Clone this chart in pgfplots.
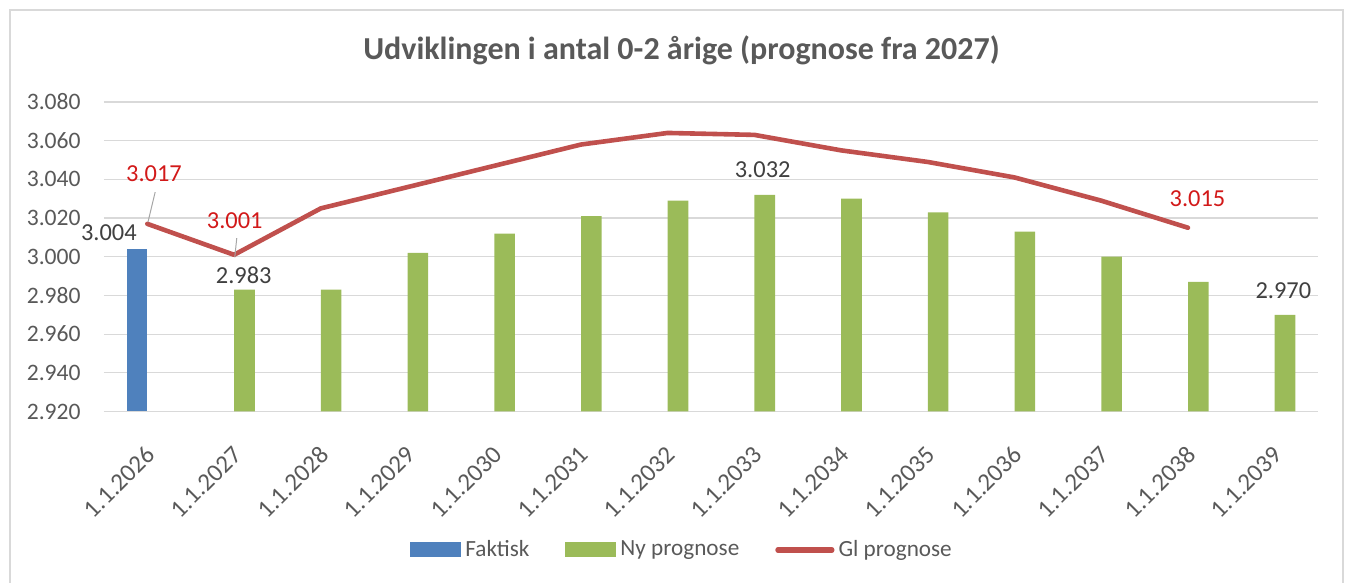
\documentclass[border=0pt]{standalone}
\usepackage{fontspec}
\setmainfont{Carlito}
\usepackage{pgfplots}
\pgfplotsset{compat=1.18}

\definecolor{fakt}{HTML}{4F81BD}
\definecolor{nyp}{HTML}{9BBB59}
\definecolor{glp}{HTML}{C0504D}
\definecolor{txt}{HTML}{595959}
\definecolor{lbl}{HTML}{404040}
\definecolor{lblred}{RGB}{210,25,25}
\definecolor{gridc}{HTML}{D9D9D9}

\begin{document}
\begin{tikzpicture}
% page: 1351x583 px at 0.5pt/px, axis area SW corner at the origin
\useasboundingbox (-52pt,-85.75pt) rectangle (623.5pt,205.75pt);
\draw[gridc, line width=0.6pt] (-47pt,-90pt) rectangle (619.5pt,200.75pt);
\node[font=\fontsize{16}{19}\selectfont\bfseries, text=txt] at (288.75pt,180.75pt)
  {Udviklingen i antal 0-2 årige (prognose fra 2027)};
\begin{axis}[
    scale only axis,
    width=607pt, height=154.75pt,
    xmin=-0.5, xmax=13.5,
    ymin=2920, ymax=3080,
    ytick distance=20,
    xtick={0,...,13},
    xticklabels={1.1.2026,1.1.2027,1.1.2028,1.1.2029,1.1.2030,1.1.2031,1.1.2032,
                 1.1.2033,1.1.2034,1.1.2035,1.1.2036,1.1.2037,1.1.2038,1.1.2039},
    axis line style={draw=none},
    major tick length=0pt,
    ymajorgrids, grid style={gridc, line width=0.6pt},
    clip mode=individual,
    scaled y ticks=false,
    /pgf/number format/assume math mode=true,
    ticklabel style={text=txt},
    yticklabel style={font=\fontsize{11.8}{13}\selectfont,
        /pgf/number format/fixed, /pgf/number format/precision=0,
        /pgf/number format/1000 sep={.}, inner sep=0pt, xshift=-11.5pt},
    xticklabel style={font=\fontsize{12.5}{14}\selectfont,
        xshift=1.8pt, yshift=-19.5pt, rotate=45, anchor=east, inner sep=0pt},
    legend columns=3,
    legend cell align=left,
    legend style={at={(0.477,-0.4475)}, anchor=center, draw=none, fill=none,
        font=\fontsize{11.6}{13}\selectfont, text=txt,
        /tikz/every even column/.append style={column sep=16pt},
        nodes={inner xsep=2pt, inner ysep=0pt}},
]
\addplot[ybar, bar width=10.3pt, bar shift=-5.2pt, fill=fakt, draw=none,
    legend image code/.code={\fill[fakt] (0pt,-3.75pt) rectangle (25.5pt,3.75pt);}]
    coordinates {(0,3004)};
\addlegendentry{Faktisk}
\addplot[ybar, bar width=10.3pt, bar shift=5.2pt, fill=nyp, draw=none,
    legend image code/.code={\fill[nyp] (0pt,-3.75pt) rectangle (25.5pt,3.75pt);}]
    coordinates {
    (1,2983) (2,2983) (3,3002) (4,3012) (5,3021) (6,3029) (7,3032)
    (8,3030) (9,3023) (10,3013) (11,3000) (12,2987) (13,2970)
};
\addlegendentry{Ny prognose}
\addplot[glp, line width=2.3pt, line join=round, line cap=round, mark=none,
    legend image code/.code={\draw[glp, line width=2.6pt, line cap=round] (0pt,0pt) -- (27pt,0pt);}]
    coordinates {
    (0,3017) (1,3001) (2,3025) (3,3036) (4,3047) (5,3058) (6,3064)
    (7,3063) (8,3055) (9,3049) (10,3041) (11,3029) (12,3015)
};
\addlegendentry{Gl prognose}
% data labels
\draw[gray!70, line width=0.5pt] (axis cs:0.09,3033.4) -- (axis cs:0.007,3017.9);
\draw[gray!70, line width=0.5pt] (axis cs:1.031,3009.6) -- (axis cs:1.008,2999.7);
\begin{scope}[every node/.style={font=\fontsize{12.2}{14}\selectfont, inner sep=0pt}]
\node[text=lbl] at (axis cs:-0.444,3012.7) {3.004};
\node[text=lblred] at (axis cs:0.076,3043.2) {3.017};
\node[text=lblred] at (axis cs:1.008,3018.9) {3.001};
\node[text=lbl] at (axis cs:1.112,2990.4) {2.983};
\node[text=lbl] at (axis cs:7.096,3044.8) {3.032};
\node[text=lblred] at (axis cs:12.11,3029.8) {3.015};
\node[text=lbl] at (axis cs:13.1,2982.6) {2.970};
\end{scope}
\end{axis}
\end{tikzpicture}
\end{document}
